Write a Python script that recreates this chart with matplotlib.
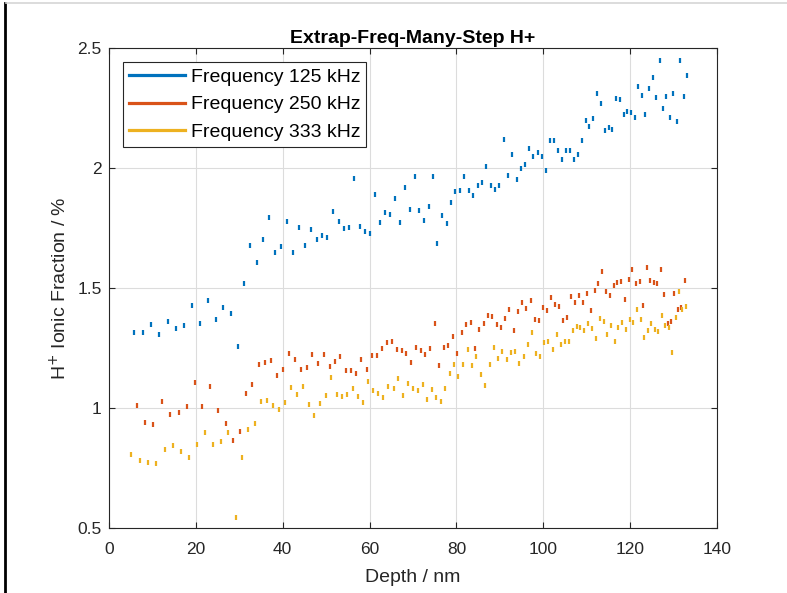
"""Extrap-Freq-Many-Step H+ ionic fraction vs depth."""
import matplotlib; matplotlib.use('Agg')
import matplotlib.pyplot as plt
from matplotlib.lines import Line2D

plt.rcParams['font.family'] = ['Liberation Sans', 'DejaVu Sans']

# Frequency 125 kHz
depth_125 = [
    5.73, 7.80, 9.64, 11.63, 13.55, 15.47, 17.24, 19.15, 20.99, 22.76,
    24.60, 26.35, 28.12, 29.67, 31.19, 32.58, 34.04, 35.49, 36.95, 38.33,
    39.71, 41.09, 42.47, 43.77, 45.09, 46.47, 47.85, 49.07, 50.29, 51.60,
    52.91, 54.06, 55.35, 56.50, 57.74, 58.96, 60.11, 61.27, 62.49, 63.64,
    64.72, 65.94, 67.02, 68.17, 69.25, 70.40, 71.39, 72.54, 73.62, 74.61,
    75.60, 76.69, 77.77, 78.76, 79.75, 80.83, 81.82, 82.90, 83.89, 84.90,
    85.96, 86.88, 87.89, 88.95, 89.87, 90.88, 91.87, 92.86, 93.88, 94.87,
    95.79, 96.71, 97.70, 98.71, 99.63, 100.55, 101.54, 102.46, 103.38, 104.30,
    105.22, 106.14, 107.06, 107.92, 108.84, 109.76, 110.59, 111.51, 112.36, 113.28,
    114.20, 115.05, 115.88, 116.73, 117.65, 118.50, 119.33, 120.18, 121.03, 121.86,
    122.71, 123.48, 124.33, 125.18, 125.94, 126.79, 127.55, 128.31, 129.16, 129.85,
    130.70, 131.46, 132.31, 133.07,
]
frac_125 = [
    1.318, 1.316, 1.349, 1.309, 1.361, 1.332, 1.346, 1.429, 1.354, 1.451,
    1.371, 1.421, 1.397, 1.259, 1.521, 1.678, 1.608, 1.703, 1.797, 1.650,
    1.677, 1.781, 1.650, 1.754, 1.678, 1.745, 1.703, 1.720, 1.713, 1.821,
    1.780, 1.749, 1.753, 1.958, 1.757, 1.737, 1.728, 1.893, 1.777, 1.817,
    1.807, 1.875, 1.777, 1.920, 1.831, 1.969, 1.827, 1.784, 1.841, 1.966,
    1.686, 1.805, 1.771, 1.859, 1.906, 1.909, 1.969, 1.909, 1.889, 1.928,
    1.942, 2.009, 1.931, 1.914, 1.930, 2.122, 1.971, 2.060, 1.955, 2.001,
    2.019, 2.085, 2.052, 2.069, 2.052, 1.992, 2.117, 2.119, 2.076, 2.037,
    2.076, 2.076, 2.037, 2.059, 2.117, 2.202, 2.177, 2.209, 2.312, 2.272,
    2.158, 2.170, 2.162, 2.293, 2.288, 2.227, 2.238, 2.236, 2.213, 2.341,
    2.304, 2.227, 2.333, 2.382, 2.298, 2.450, 2.250, 2.300, 2.215, 2.312,
    2.198, 2.452, 2.301, 2.390,
]

# Frequency 250 kHz
depth_250 = [
    6.42, 8.40, 10.24, 12.24, 14.15, 16.09, 17.93, 19.77, 21.52, 23.29,
    25.13, 26.90, 28.65, 30.13, 31.58, 33.03, 34.50, 35.95, 37.40, 38.71,
    40.09, 41.54, 42.92, 44.17, 45.55, 46.84, 48.22, 49.46, 50.84, 52.06,
    53.28, 54.59, 55.74, 56.96, 58.11, 59.35, 60.50, 61.66, 62.88, 64.03,
    65.18, 66.26, 67.41, 68.47, 69.62, 70.77, 71.78, 72.84, 73.92, 75.00,
    76.00, 77.08, 78.14, 79.15, 80.14, 81.22, 82.21, 83.29, 84.28, 85.27,
    86.28, 87.27, 88.26, 89.34, 90.26, 91.25, 92.17, 93.26, 94.18, 95.17,
    96.09, 97.10, 98.02, 99.01, 99.93, 100.85, 101.77, 102.76, 103.68, 104.53,
    105.52, 106.44, 107.37, 108.22, 109.14, 110.06, 110.90, 111.83, 112.66, 113.58,
    114.43, 115.35, 116.20, 117.03, 117.88, 118.73, 119.65, 120.41, 121.33, 122.18,
    123.02, 123.87, 124.63, 125.48, 126.24, 127.09, 127.78, 128.63, 129.39, 130.08,
    130.93, 131.69, 132.54,
]
frac_250 = [
    1.011, 0.942, 0.931, 1.030, 0.976, 0.984, 1.008, 1.107, 1.009, 1.090,
    0.990, 0.937, 0.866, 0.903, 1.062, 1.100, 1.183, 1.191, 1.198, 1.138,
    1.163, 1.229, 1.205, 1.163, 1.169, 1.223, 1.189, 1.226, 1.175, 1.194,
    1.216, 1.158, 1.159, 1.145, 1.204, 1.162, 1.222, 1.219, 1.250, 1.276,
    1.280, 1.247, 1.240, 1.230, 1.190, 1.254, 1.243, 1.223, 1.250, 1.353,
    1.180, 1.254, 1.263, 1.299, 1.230, 1.318, 1.349, 1.358, 1.251, 1.328,
    1.354, 1.386, 1.382, 1.351, 1.337, 1.376, 1.411, 1.326, 1.405, 1.442,
    1.418, 1.449, 1.369, 1.368, 1.419, 1.409, 1.462, 1.433, 1.426, 1.368,
    1.379, 1.468, 1.443, 1.472, 1.442, 1.480, 1.407, 1.490, 1.522, 1.572,
    1.487, 1.471, 1.514, 1.525, 1.530, 1.454, 1.536, 1.579, 1.521, 1.529,
    1.427, 1.589, 1.533, 1.526, 1.520, 1.581, 1.475, 1.355, 1.361, 1.480,
    1.412, 1.421, 1.532,
]

# Frequency 333 kHz
depth_333 = [
    5.11, 7.11, 9.02, 10.93, 12.87, 14.71, 16.62, 18.53, 20.37, 22.14,
    23.98, 25.75, 27.50, 29.21, 30.72, 32.11, 33.58, 35.03, 36.48, 37.86,
    39.24, 40.62, 42.00, 43.38, 44.70, 46.00, 47.30, 48.60, 49.92, 51.21,
    52.45, 53.67, 54.89, 56.13, 57.42, 58.50, 59.72, 60.87, 62.03, 63.18,
    64.33, 65.57, 66.56, 67.71, 68.86, 70.01, 71.09, 72.24, 73.23, 74.32,
    75.37, 76.38, 77.38, 78.46, 79.45, 80.44, 81.52, 82.60, 83.59, 84.58,
    85.59, 86.58, 87.66, 88.65, 89.64, 90.56, 91.58, 92.50, 93.49, 94.48,
    95.49, 96.41, 97.40, 98.32, 99.31, 100.23, 101.15, 102.16, 103.08, 104.00,
    104.92, 105.84, 106.77, 107.69, 108.52, 109.37, 110.36, 111.21, 112.13, 112.98,
    113.90, 114.73, 115.58, 116.43, 117.26, 118.18, 119.03, 119.88, 120.64, 121.49,
    122.41, 123.25, 124.03, 124.86, 125.64, 126.47, 127.32, 128.01, 128.86, 129.62,
    130.47, 131.23, 131.99, 132.77,
]
frac_333 = [
    0.809, 0.782, 0.775, 0.770, 0.830, 0.844, 0.819, 0.796, 0.848, 0.899,
    0.851, 0.863, 0.901, 0.543, 0.796, 0.910, 0.935, 1.030, 1.034, 1.012,
    0.995, 1.026, 1.086, 1.058, 1.091, 1.017, 0.969, 1.022, 1.055, 1.127,
    1.058, 1.051, 1.057, 1.083, 1.048, 1.024, 1.111, 1.074, 1.062, 1.047,
    1.091, 1.083, 1.125, 1.055, 1.102, 1.083, 1.074, 1.099, 1.037, 1.077,
    1.045, 1.030, 1.084, 1.144, 1.184, 1.134, 1.183, 1.247, 1.179, 1.218,
    1.141, 1.097, 1.181, 1.254, 1.208, 1.238, 1.205, 1.234, 1.237, 1.187,
    1.218, 1.266, 1.316, 1.229, 1.218, 1.273, 1.280, 1.244, 1.308, 1.266,
    1.280, 1.280, 1.326, 1.341, 1.337, 1.326, 1.355, 1.332, 1.291, 1.376,
    1.361, 1.309, 1.346, 1.280, 1.339, 1.358, 1.330, 1.371, 1.358, 1.411,
    1.372, 1.296, 1.326, 1.354, 1.330, 1.321, 1.387, 1.344, 1.339, 1.234,
    1.380, 1.487, 1.412, 1.426,
]

labels = ['Frequency 125 kHz', 'Frequency 250 kHz', 'Frequency 333 kHz']
colors = ['#0072BD', '#D95319', '#EDB120']
x_ticks = [0, 20, 40, 60, 80, 100, 120, 140]
y_ticks = [0.5, 1, 1.5, 2, 2.5]
y_ticklabels = ['0.5', '1', '1.5', '2', '2.5']

AX_COL = '#262626'

fig = plt.figure(figsize=(7.87, 5.93), dpi=100)
ax = fig.add_axes([0.1382, 0.1101, 0.7732, 0.8085])

for xs, ys, c in zip(
    [depth_125, depth_250, depth_333],
    [frac_125, frac_250, frac_333],
    colors,
):
    ax.plot(
        xs,
        ys,
        ls='none',
        marker='|',
        ms=3.6,
        mew=1.6,
        color=c,
        zorder=3,
    )

ax.set_xlim(0, 140)
ax.set_ylim(0.5, 2.5)
ax.set_xticks(x_ticks)
ax.set_yticks(y_ticks)
ax.set_yticklabels(y_ticklabels)
ax.grid(True, color='#dcdcdc', lw=0.8)
ax.set_axisbelow(True)

ax.tick_params(
    which='both',
    direction='in',
    top=True,
    right=True,
    length=4.5,
    width=0.8,
    color=AX_COL,
    labelcolor=AX_COL,
    labelsize=12.5,
)
ax.tick_params(axis='x', pad=10)
ax.tick_params(axis='y', pad=5)
for sp in ax.spines.values():
    sp.set_color(AX_COL)
    sp.set_linewidth(0.8)

ax.set_title("Extrap-Freq-Many-Step H+", fontsize=14, fontweight='bold', pad=4)
ax.set_xlabel("Depth / nm", fontsize=14, color=AX_COL, labelpad=9)
ax.set_ylabel("H$^{+}$ Ionic Fraction / %", fontsize=14, color=AX_COL, labelpad=5)

handles = [Line2D([0], [0], color=c, lw=2.3) for c in colors]
leg = ax.legend(
    handles,
    labels,
    loc='upper left',
    bbox_to_anchor=(0.023, 0.971),
    borderaxespad=0,
    fancybox=False,
    framealpha=1,
    edgecolor=AX_COL,
    fontsize=14,
    handlelength=2.9,
    handletextpad=0.3,
    labelspacing=0.52,
    borderpad=0.3,
)
leg.get_frame().set_linewidth(0.8)

# window frame lines
fig.add_artist(Line2D([0.0064, 0.0064], [0.0, 0.995], transform=fig.transFigure,
                      color='black', lw=2))
fig.add_artist(Line2D([0.008, 1.0], [0.9941, 0.9941], transform=fig.transFigure,
                      color='#d6d6d6', lw=1.2))

fig.savefig('out.png', dpi=100)
plt.close(fig)
